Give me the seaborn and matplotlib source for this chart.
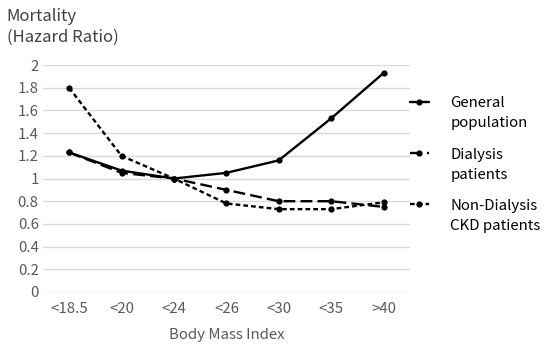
"""Mortality hazard ratio by BMI category."""

import matplotlib
matplotlib.use('Agg')
import matplotlib.pyplot as plt
import seaborn as sns
import pandas as pd

# Data
bmi_labels = ['<18.5', '<20', '<24', '<26', '<30', '<35', '>40']
general_population = [1.23, 1.07, 1.00, 1.05, 1.16, 1.53, 1.93]
dialysis_patients = [1.23, 1.05, 1.00, 0.90, 0.80, 0.80, 0.75]
non_dialysis_ckd = [1.80, 1.20, 1.00, 0.78, 0.73, 0.73, 0.79]
series_names = ['General\npopulation', 'Dialysis\npatients', 'Non-Dialysis\nCKD patients']
y_ticks = [0, 0.2, 0.4, 0.6, 0.8, 1, 1.2, 1.4, 1.6, 1.8, 2]

sns.set_style("white")
plt.rcParams['font.family'] = ['Noto Sans CJK JP', 'DejaVu Sans']

df = pd.DataFrame({
    'bmi': bmi_labels * 3,
    'hr': general_population + dialysis_patients + non_dialysis_ckd,
    'series': sum([[n] * len(bmi_labels) for n in series_names], []),
})

fig = plt.figure(figsize=(5.5, 3.48), dpi=100)
ax = fig.add_axes([0.078, 0.161, 0.667, 0.652])

dash_styles = {
    series_names[0]: '',
    series_names[1]: (5, 2.2),
    series_names[2]: (2, 1.3),
}
sns.lineplot(data=df, x='bmi', y='hr', hue='series', style='series',
             palette=['black'] * 3, dashes=dash_styles,
             markers={n: 'o' for n in series_names}, markersize=4.5,
             markeredgewidth=0, linewidth=1.7, sort=False, ax=ax)

ax.set_xlim(-0.5, len(bmi_labels) - 0.5)
ax.set_ylim(0, 2)
ax.set_yticks(y_ticks)
ax.set_yticklabels([f'{t:g}' for t in y_ticks])
ax.yaxis.grid(True, color='#d9d9d9', linewidth=1)
ax.set_axisbelow(True)
for s in ax.spines.values():
    s.set_visible(False)
ax.tick_params(axis='both', length=0, labelsize=10.8, colors='#595959')
ax.tick_params(axis='x', pad=7)
ax.tick_params(axis='y', pad=3)
ax.set_xlabel('Body Mass Index', fontsize=10.8, color='#595959', labelpad=9)
ax.set_ylabel('')

fig.text(0.012, 0.978, 'Mortality\n(Hazard Ratio)', fontsize=12,
         color='#404040', va='top', ha='left', linespacing=1.3)

handles, labels = ax.get_legend_handles_labels()
leg = ax.legend(handles, labels, loc='upper left', bbox_to_anchor=(0.963, 0.922),
                frameon=False, fontsize=10.8, handlelength=1.3, handletextpad=1.4,
                labelspacing=1.15, labelcolor='black')
for t in leg.get_texts():
    t.set_linespacing(1.55)
# put each legend handle beside the first line of its label
for col in leg._legend_handle_box.get_children():
    for item in col.get_children():
        item.align = 'top'

fig.savefig('out.png', dpi=100)
plt.close(fig)
